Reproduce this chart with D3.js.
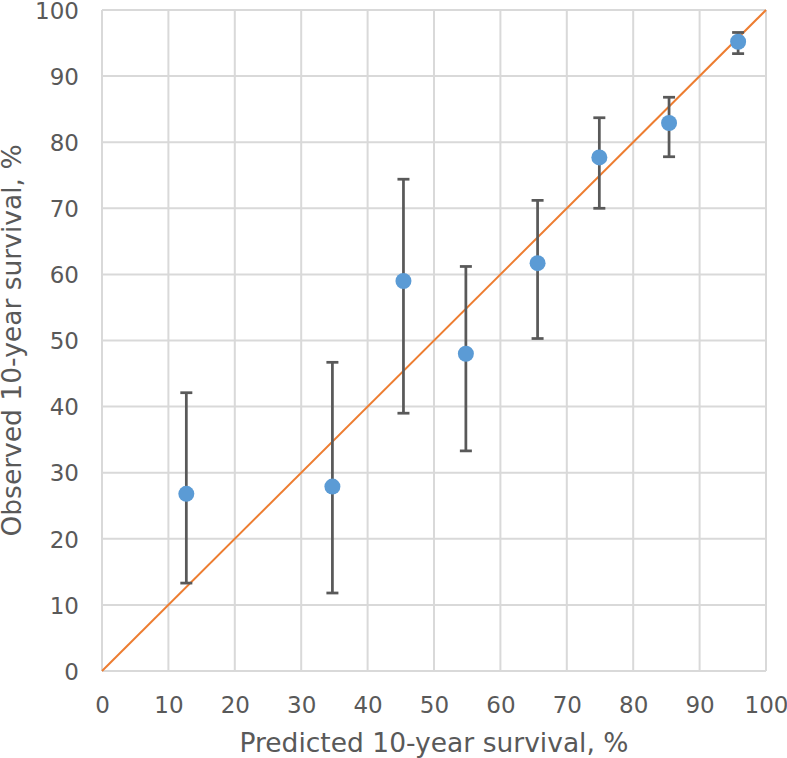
<!DOCTYPE html>
<html><head><meta charset="utf-8">
<script src="https://cdn.jsdelivr.net/npm/d3@7"></script>
<style>body{margin:0;background:#fff}svg{display:block}</style>
</head><body>
<script>
const predicted = [12.7, 34.7, 45.4, 54.8, 65.6, 74.9, 85.4, 95.8];
const observed  = [26.8, 27.9, 59.0, 48.0, 61.7, 77.7, 82.9, 95.2];
const upperCI   = [42.1, 46.7, 74.4, 61.2, 71.2, 83.7, 86.8, 96.6];
const lowerCI   = [13.3, 11.8, 39.0, 33.3, 50.3, 70.0, 77.8, 93.4];
const ticks = [0,10,20,30,40,50,60,70,80,90,100];
const xTitle = "Predicted 10-year survival, %";
const yTitle = "Observed 10-year survival, %";

const W=787,H=758, L=102,R=766,T=10,B=671;
const svg=d3.select("body").append("svg").attr("width",W).attr("height",H);
const x=d3.scaleLinear().domain([0,100]).range([L,R]);
const y=d3.scaleLinear().domain([0,100]).range([B,T]);
const font="Verdana, 'DejaVu Sans', sans-serif";

// gridlines
svg.append("g").selectAll("line").data(ticks).join("line")
  .attr("x1",L).attr("x2",R).attr("y1",d=>y(d)).attr("y2",d=>y(d))
  .attr("stroke","#d9d9d9").attr("stroke-width",2);
svg.append("g").selectAll("line").data(ticks).join("line")
  .attr("y1",T).attr("y2",B).attr("x1",d=>x(d)).attr("x2",d=>x(d))
  .attr("stroke","#d9d9d9").attr("stroke-width",2);

// axes labels
const xa=d3.axisBottom(x).tickValues(ticks).tickSize(0);
const gx=svg.append("g").attr("transform",`translate(0,${B})`).call(xa);
gx.select(".domain").remove();
gx.selectAll("text").attr("y",42).attr("dy",null)
  .attr("font-family",font).attr("font-size",23).attr("fill","#595959");
const ya=d3.axisLeft(y).tickValues(ticks).tickSize(0).tickPadding(23);
const gy=svg.append("g").attr("transform",`translate(${L},0)`).call(ya);
gy.select(".domain").remove();
gy.selectAll("text").attr("dy","0.36em").attr("font-family",font).attr("font-size",23).attr("fill","#595959");

// diagonal
svg.append("line").attr("x1",x(0)).attr("y1",y(0)).attr("x2",x(100)).attr("y2",y(100))
  .attr("stroke","#ED7D31").attr("stroke-width",2);

// error bars
const idx=d3.range(predicted.length);
const eb=svg.append("g").attr("stroke","#595959").attr("stroke-width",2.75);
eb.selectAll(".v").data(idx).join("line")
  .attr("x1",i=>x(predicted[i])).attr("x2",i=>x(predicted[i]))
  .attr("y1",i=>y(lowerCI[i])).attr("y2",i=>y(upperCI[i]));
eb.selectAll(".u").data(idx).join("line")
  .attr("x1",i=>x(predicted[i])-6).attr("x2",i=>x(predicted[i])+6)
  .attr("y1",i=>y(upperCI[i])).attr("y2",i=>y(upperCI[i]));
eb.selectAll(".l").data(idx).join("line")
  .attr("x1",i=>x(predicted[i])-6).attr("x2",i=>x(predicted[i])+6)
  .attr("y1",i=>y(lowerCI[i])).attr("y2",i=>y(lowerCI[i]));

// points
svg.append("g").selectAll("circle").data(idx).join("circle")
  .attr("cx",i=>x(predicted[i])).attr("cy",i=>y(observed[i])).attr("r",8)
  .attr("fill","#5B9BD5");

// titles
svg.append("text").attr("x",(L+R)/2).attr("y",752).attr("text-anchor","middle")
  .attr("font-family",font).attr("font-size",26.5).attr("fill","#595959").text(xTitle);
svg.append("text").attr("transform",`translate(21,${(T+B)/2}) rotate(-90)`).attr("text-anchor","middle")
  .attr("font-family",font).attr("font-size",26.5).attr("fill","#595959").text(yTitle);
</script>
</body></html>
